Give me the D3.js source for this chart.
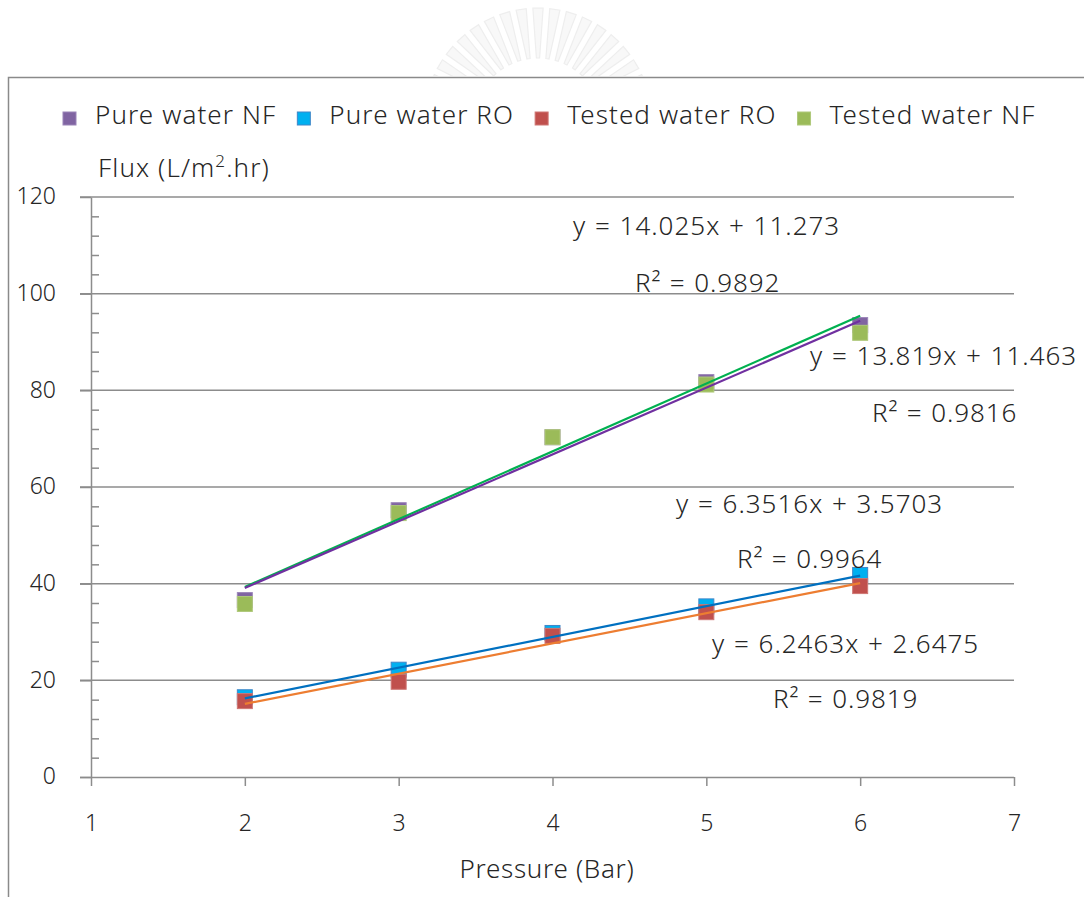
<!DOCTYPE html>
<html>
<head>
<meta charset="utf-8">
<script src="https://cdn.jsdelivr.net/npm/d3@7"></script>
<style>
  html, body { margin: 0; padding: 0; background: #fff; }
  svg { display: block; }
  text { font-family: "Noto Sans", "Open Sans", sans-serif; font-weight: 300; fill: #262626; }
</style>
</head>
<body>
<svg id="chart" width="1084" height="897"></svg>
<script>
// Pressure steps (Bar)
const pressure = [2, 3, 4, 5, 6];

// Measured flux (L/m².hr) for each membrane / feed
const pureWaterNF   = [36.6, 55.2, 70.3, 81.7, 93.5];
const pureWaterRO   = [16.5, 22.2, 29.8, 35.3, 41.8];
const testedWaterRO = [15.7, 19.7, 29.2, 34.1, 39.5];
const testedWaterNF = [35.8, 54.6, 70.3, 81.2, 91.9];

const seriesNames  = ["Pure water NF", "Pure water RO", "Tested water RO", "Tested water NF"];
const seriesValues = [pureWaterNF, pureWaterRO, testedWaterRO, testedWaterNF];
const seriesFill   = ["#8064A2", "#00B0F0", "#C0504D", "#9BBB59"];
const seriesStroke = ["#9A84B8", "#3F86C8", "#CF7774", "#AFC97B"];

// Linear trendlines: slope, intercept, R²
const trendSlope     = [14.025, 13.819, 6.3516, 6.2463];
const trendIntercept = [11.273, 11.463, 3.5703, 2.6475];
const trendR2        = ["0.9892", "0.9816", "0.9964", "0.9819"];
const trendColor     = ["#00B050", "#7030A0", "#0070C0", "#ED7D31"];
const trendRange     = [2, 6];

// Axis ticks
const xTicks = [1, 2, 3, 4, 5, 6, 7];
const yTicks = [0, 20, 40, 60, 80, 100, 120];
const yMinorTicks = d3.range(0, 121, 4).filter(v => v % 20 !== 0);

const svg = d3.select("#chart");

// faint seal behind the chart
svg.append("defs").append("clipPath").attr("id", "sealClip")
  .append("rect").attr("x", 0).attr("y", 0).attr("width", 1084).attr("height", 76);
const seal = svg.append("g").attr("clip-path", "url(#sealClip)");
const sealCx = 538, sealCy = 122;
d3.range(-158, -18, 8.5).forEach(a => {
  const r = a * Math.PI / 180;
  const p = (rad, off) => [sealCx + rad * Math.cos(r + off), sealCy + rad * Math.sin(r + off)];
  const [a1, a2, b1, b2] = [p(64, -0.025), p(64, 0.025), p(114, 0.045), p(114, -0.045)];
  seal.append("path")
    .attr("d", `M${a1}L${a2}L${b1}L${b2}Z`)
    .attr("fill", "#f8f8f8").attr("stroke", "#eeeeee").attr("stroke-width", 1.2);
});

// chart area frame
svg.append("rect")
  .attr("x", 8.5).attr("y", 77.5).attr("width", 1100).attr("height", 850)
  .attr("fill", "#fff").attr("stroke", "#8a8a8a").attr("stroke-width", 1.5);

const x = d3.scaleLinear().domain([1, 7]).range([91, 1014]);
const y = d3.scaleLinear().domain([0, 120]).range([777, 197]);

// horizontal gridlines
svg.append("g").selectAll("line").data(yTicks.filter(v => v > 0)).join("line")
  .attr("x1", 80).attr("x2", x(7))
  .attr("y1", d => y(d)).attr("y2", d => y(d))
  .attr("stroke", "#8c8c8c").attr("stroke-width", 1.5);

const axisColor = "#8c8c8c";
function styleAxis(g) {
  g.selectAll("path, line").attr("stroke", axisColor).attr("stroke-width", 1.5);
  g.selectAll("text").attr("fill", "#262626")
    .style("font-family", '"Noto Sans", "Open Sans", sans-serif')
    .style("font-weight", 300)
    .style("font-size", "23px");
}

// y axis: major ticks outside, minor ticks inside
svg.append("g").attr("transform", `translate(${x(1)},0)`)
  .call(d3.axisLeft(y).tickValues(yTicks).tickSize(11).tickSizeOuter(0).tickPadding(24))
  .call(styleAxis)
  .call(g => g.selectAll("text").attr("dy", "0.30em"));
svg.append("g").attr("transform", `translate(${x(1)},0)`)
  .call(d3.axisRight(y).tickValues(yMinorTicks).tickSize(8).tickSizeOuter(0).tickFormat(""))
  .call(styleAxis)
  .call(g => g.select(".domain").remove());

// x axis
svg.append("g").attr("transform", `translate(0,${y(0)})`)
  .call(d3.axisBottom(x).tickValues(xTicks).tickFormat(d3.format("d"))
    .tickSize(9).tickSizeOuter(0).tickPadding(29))
  .call(styleAxis)
  .call(g => g.select(".domain").attr("d", `M80,0.5H${x(7)}`));

// markers
const markerSize = 15;
seriesValues.forEach((vals, i) => {
  svg.append("g").selectAll("rect").data(vals.map((v, k) => [pressure[k], v])).join("rect")
    .attr("x", d => x(d[0]) - markerSize / 2)
    .attr("y", d => y(d[1]) - markerSize / 2)
    .attr("width", markerSize).attr("height", markerSize)
    .attr("fill", seriesFill[i]).attr("stroke", seriesStroke[i]).attr("stroke-width", 1);
});

// trendlines
const trendLine = d3.line().x(d => x(d[0])).y(d => y(d[1]));
trendSlope.forEach((m, i) => {
  const pts = trendRange.map(p => [p, m * p + trendIntercept[i]]);
  svg.append("path").attr("d", trendLine(pts))
    .attr("fill", "none").attr("stroke", trendColor[i]).attr("stroke-width", 2.2);
});

// trendline labels
const eqLabelPos = [[573, 235], [810, 365], [676, 513], [712, 653]];
const r2LabelPos = [[635, 292], [872, 422], [737, 568], [773, 708]];
trendSlope.forEach((m, i) => {
  svg.append("text").attr("x", eqLabelPos[i][0]).attr("y", eqLabelPos[i][1])
    .style("font-size", "26px").style("letter-spacing", "1px").style("word-spacing", "1px")
    .text(`y = ${m}x + ${trendIntercept[i]}`);
  svg.append("text").attr("x", r2LabelPos[i][0]).attr("y", r2LabelPos[i][1])
    .style("font-size", "26px").style("letter-spacing", "0.9px").style("word-spacing", "1px")
    .text(`R² = ${trendR2[i]}`);
});

// legend
const legend = svg.append("g");
let lx = 63;
seriesNames.forEach((name, i) => {
  legend.append("rect").attr("x", lx).attr("y", 112).attr("width", 13).attr("height", 13)
    .attr("fill", seriesFill[i]).attr("stroke", seriesStroke[i]).attr("stroke-width", 1);
  const t = legend.append("text").attr("x", lx + 32).attr("y", 124)
    .style("font-size", "26px").style("letter-spacing", "1.1px")
    .text(name);
  lx += 32 + t.node().getComputedTextLength() + 21;
});

// axis titles
const yTitle = svg.append("text").attr("x", 98).attr("y", 177)
  .style("font-size", "26px").style("letter-spacing", "1.1px");
yTitle.append("tspan").text("Flux (L/m");
yTitle.append("tspan").attr("dy", -10).style("font-size", "17px").text("2");
yTitle.append("tspan").attr("dy", 10).text(".hr)");

svg.append("text").attr("x", 547).attr("y", 878)
  .attr("text-anchor", "middle").style("font-size", "26px").style("letter-spacing", "0.7px")
  .text("Pressure (Bar)");
</script>
</body>
</html>
